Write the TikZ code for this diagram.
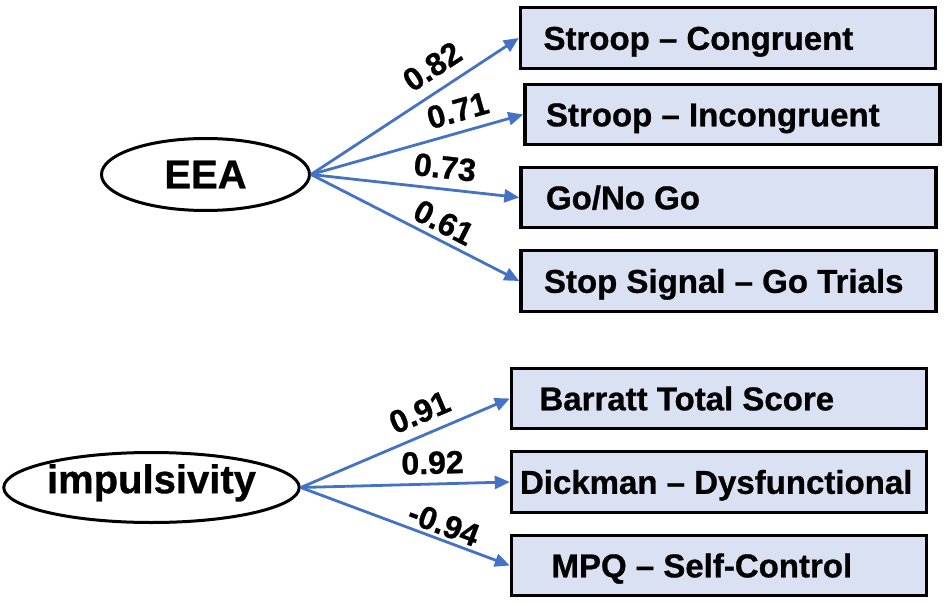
\documentclass[tikz,border=0pt]{standalone}
\usepackage{fontspec}
\setmainfont[BoldFeatures={FakeBold=0.8}]{Liberation Sans}
\usetikzlibrary{arrows.meta,shapes.geometric}
\definecolor{boxfill}{HTML}{DAE1F3}
\definecolor{arrowblue}{HTML}{4472C4}
\begin{document}
\begin{tikzpicture}[x=1pt,y=-1pt,
  box/.style={draw=black, line width=3.4pt, fill=boxfill, rectangle, inner sep=0pt, minimum width=415pt, minimum height=60.5pt},
  latent/.style={draw=black, line width=3pt, ellipse, inner sep=0pt, font=\fontsize{40}{44}\selectfont\bfseries},
  boxtext/.style={anchor=base west, inner sep=0pt, font=\fontsize{33}{36}\selectfont\bfseries},
  loading/.style={draw=arrowblue, line width=2.8pt, -{Triangle[length=15pt,width=13pt]}},
  coef/.style={font=\fontsize{32}{34}\selectfont\bfseries, inner sep=0pt, sloped}]

\useasboundingbox (0,0) rectangle (945,604);

% latent variables
\node[latent, minimum width=208pt, minimum height=72pt] (eea) at (205.5,174.5) {EEA};
\node[latent, minimum width=294pt, minimum height=70pt, text depth=17.6pt] (imp) at (151.5,487.5) {impulsivity};

% indicator boxes
\node[box] (b1) at (728,38) {};
\node[box] (b2) at (732.5,114.5) {};
\node[box] (b3) at (728.5,197.5) {};
\node[box] (b4) at (728.5,281) {};
\node[box] (b5) at (719,398.5) {};
\node[box] (b6) at (719,482) {};
\node[box] (b7) at (719,565.5) {};

\node[boxtext] (t1) at ([xshift=24.5pt,yshift=-11.8pt]b1.west) {Stroop – Congruent};
\node[boxtext] (t2) at ([xshift=22.5pt,yshift=-11.8pt]b2.west) {Stroop – Incongruent};
\node[boxtext] (t3) at ([xshift=26.5pt,yshift=-11.8pt]b3.west) {Go/No Go};
\node[boxtext] (t4) at ([xshift=24.5pt,yshift=-11.8pt]b4.west) {Stop Signal – Go Trials};
\node[boxtext] (t5) at ([xshift=29.5pt,yshift=-11.8pt]b5.west) {Barratt Total Score};
\node[boxtext] (t6) at ([xshift=10pt,yshift=-11.8pt]b6.west) {Dickman – Dysfunctional};
\node[boxtext] (t7) at ([xshift=41.5pt,yshift=-11.8pt]b7.west) {MPQ – Self-Control};

% loadings
\draw[loading] (eea.east) -- (b1.west) node[coef, pos=0.646, above=11pt] {0.82};
\draw[loading] (eea.east) -- (b2.west) node[coef, pos=0.719, above=9pt] {0.71};
\draw[loading] (eea.east) -- (b3.west) node[coef, pos=0.632, above=9pt] {0.73};
\draw[loading] (eea.east) -- (b4.west) node[coef, pos=0.599, above=5pt] {0.61};
\draw[loading] (imp.east) -- (b5.west) node[coef, pos=0.611, above=10pt] {0.91};
\draw[loading] (imp.east) -- (b6.west) node[coef, pos=0.633, above=8.5pt] {0.92};
\draw[loading] (imp.east) -- (b7.west) node[coef, pos=0.658, above=3pt] {-0.94};
\end{tikzpicture}
\end{document}
